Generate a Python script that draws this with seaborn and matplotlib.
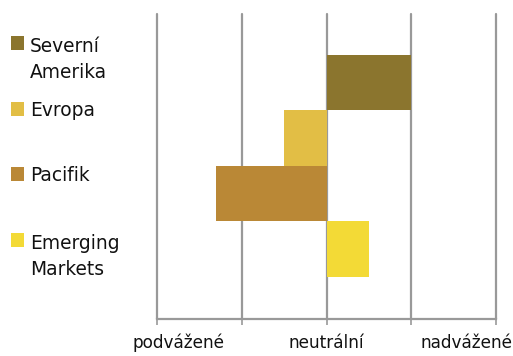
import matplotlib
matplotlib.use("Agg")
import matplotlib.pyplot as plt
import matplotlib.transforms as mtransforms
from matplotlib.patches import Rectangle
import seaborn as sns
import pandas as pd

# data
regions = ["Severní\nAmerika", "Evropa", "Pacifik", "Emerging\nMarkets"]
positions = [1.0, -0.5, -1.3, 0.5]
colors = ["#8B752E", "#E2BE45", "#BA8836", "#F3DA36"]
tick_values = [-2, -1, 0, 1, 2]
tick_labels = ["podvážené", "", "neutrální", "", "nadvážené"]

sns.set_style("white")
plt.rcParams["font.family"] = ["DejaVu Sans"]

df = pd.DataFrame({"region": regions, "position": positions})

fig = plt.figure(figsize=(5.13, 3.56), dpi=100)
ax = fig.add_axes([157 / 513, 37 / 356, 339 / 513, 305 / 356])

sns.barplot(data=df, x="position", y="region", hue="region", palette=colors,
            orient="h", width=1.0, legend=False, ax=ax, saturation=1,
            linewidth=0)

ax.set_xlim(-2, 2)
ax.set_ylim(4.26, -1.24)
ax.set_xlabel("")
ax.set_ylabel("")
ax.set_yticks([])
ax.set_xticks(tick_values)
ax.set_xticklabels(tick_labels, fontsize=12.2)

gc = "#999999"
ax.grid(axis="x", color=gc, linewidth=1.6)
ax.set_axisbelow(True)
for ln in ax.get_xgridlines():
    ln.set_clip_on(False)
for side in ["top", "left", "right"]:
    ax.spines[side].set_visible(False)
ax.spines["bottom"].set_color(gc)
ax.spines["bottom"].set_linewidth(1.6)
ax.tick_params(axis="x", direction="out", length=4.5, width=1.2, color=gc,
               pad=6, labelcolor="#111111", bottom=True)

# keep the outer labels inside the figure
labels = ax.get_xticklabels()
labels[0].set_transform(labels[0].get_transform() +
                        mtransforms.ScaledTranslation(22 / 100, 0, fig.dpi_scale_trans))
labels[4].set_transform(labels[4].get_transform() +
                        mtransforms.ScaledTranslation(-29 / 100, 0, fig.dpi_scale_trans))

# legend on the left
W, H = 513, 356
line_gap = 28
for i, (name, col) in enumerate(zip(regions, colors)):
    top = 36 + i * 65.7
    base = top + 14 + name.count("\n") * line_gap
    fig.add_artist(Rectangle((11 / W, 1 - (top + 14) / H), 13 / W, 14 / H,
                             transform=fig.transFigure, color=col, lw=0))
    fig.text(30 / W, 1 - base / H, name, fontsize=13.4, va="baseline",
             ha="left", linespacing=1.45, color="#111111")

fig.savefig("out.png", dpi=100)
